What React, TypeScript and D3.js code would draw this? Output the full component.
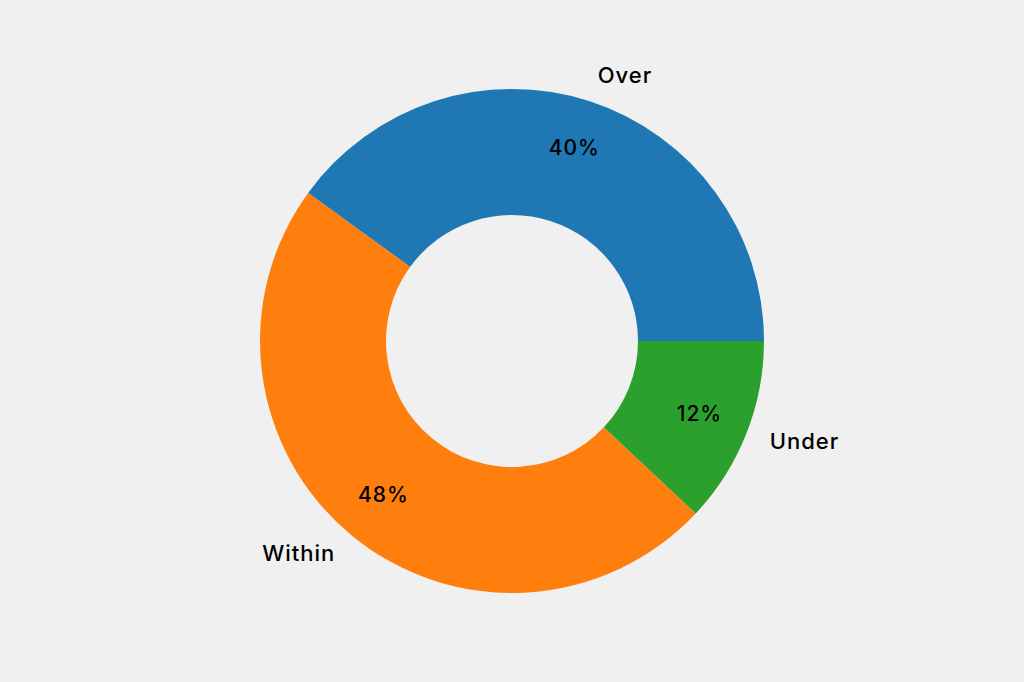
import { useEffect, useRef } from 'react'
import * as d3 from 'd3'

const categories = ['Over', 'Within', 'Under']
const shares = [40, 48, 12]
const colors = ['#1f77b4', '#ff7f0e', '#2ca02c']

export default function App() {
  const svgRef = useRef<SVGSVGElement>(null)

  useEffect(() => {
    if (!svgRef.current) return
    const svg = d3.select(svgRef.current)
    svg.selectAll('*').remove()

    const width = 1024
    const height = 682
    const cx = 512
    const cy = 341
    const radius = 252
    const inner = radius * 0.5

    svg.append('rect').attr('width', width).attr('height', height).attr('fill', '#f0f0f0')

    const g = svg.append('g').attr('transform', `translate(${cx},${cy})`)

    // matplotlib style: start at 3 o'clock, counter-clockwise
    const pie = d3.pie<number>()
      .sort(null)
      .startAngle(Math.PI / 2)
      .endAngle(Math.PI / 2 - 2 * Math.PI)

    const arcs = pie(shares)
    const arc = d3.arc<d3.PieArcDatum<number>>().innerRadius(inner).outerRadius(radius)

    g.selectAll('path.slice')
      .data(arcs)
      .join('path')
      .attr('class', 'slice')
      .attr('d', arc)
      .attr('fill', (_, i) => colors[i])

    const font = 'Inter, "Noto Sans", sans-serif'

    arcs.forEach((a, i) => {
      const mid = (a.startAngle + a.endAngle) / 2
      const sx = Math.sin(mid)
      const sy = -Math.cos(mid)

      // percent label at 0.8 radius
      g.append('text')
        .attr('x', sx * radius * 0.8)
        .attr('y', sy * radius * 0.8)
        .attr('dy', -2)
        .attr('text-anchor', 'middle')
        .attr('dominant-baseline', 'central')
        .style('font-family', font)
        .style('font-size', '21px')
        .style('font-weight', 500)
        .style('letter-spacing', '1px')
        .attr('fill', '#000')
        .text(`${shares[i]}%`)

      // category label at 1.1 radius
      g.append('text')
        .attr('x', sx * radius * 1.1)
        .attr('y', sy * radius * 1.1)
        .attr('dy', -2)
        .attr('text-anchor', sx > 0 ? 'start' : 'end')
        .attr('dominant-baseline', 'central')
        .style('font-family', font)
        .style('font-size', '22px')
        .style('font-weight', 500)
        .style('letter-spacing', '1px')
        .attr('fill', '#000')
        .text(categories[i])
    })
  }, [])

  return (
    <svg
      ref={svgRef}
      width={1024}
      height={682}
      style={{ position: 'absolute', left: 0, top: 0, display: 'block' }}
    />
  )
}
